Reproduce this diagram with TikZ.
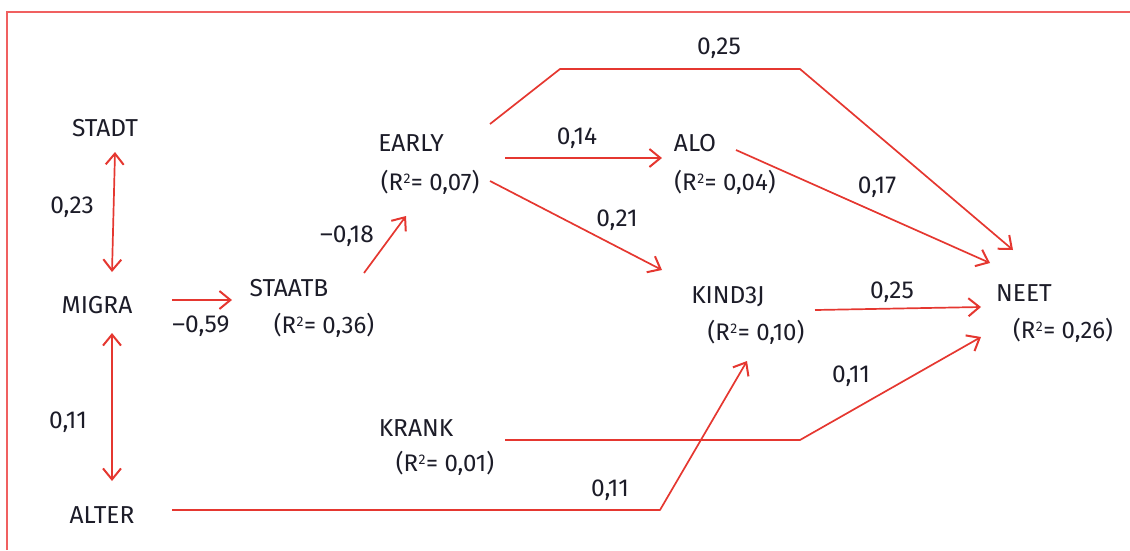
\documentclass[tikz,border=0pt]{standalone}
\usepackage{fontspec}
\setmainfont{Fira Sans}
\usetikzlibrary{arrows.meta}
\definecolor{linered}{HTML}{E53730}
\definecolor{framered}{HTML}{F06060}
\definecolor{txt}{HTML}{1C1C28}
\tikzset{
  lbl/.style={inner sep=0pt, text=txt, font=\fontsize{24.5}{28}\selectfont, anchor=center},
  rlbl/.style={lbl, font=\fontsize{24}{28}\selectfont},
  arr/.style={draw=linered, line width=1.7pt, line join=round, -{Straight Barb[length=11pt,width=18pt,line width=2pt]}},
  darr/.style={draw=linered, line width=1.7pt, {Straight Barb[length=11pt,width=18pt,line width=2pt]}-{Straight Barb[length=11pt,width=18pt,line width=2pt]}},
  frame/.style={draw=framered, line width=1.3pt}
}
\newcommand{\rsq}[1]{(R\kern0.5pt\raisebox{0.55ex}{\fontsize{14}{14}\selectfont 2}\kern0.5pt= #1)}
\begin{document}
\begin{tikzpicture}[x=1pt,y=-1pt]
\useasboundingbox (0,0) rectangle (1130,550);
\draw[frame] (7,550) -- (7,12) -- (1130,12);
% variable nodes
\node[lbl] (stadt) at (105,128) {STADT};
\node[lbl] (migra) at (97,305) {MIGRA};
\node[lbl] (alter) at (102,515) {ALTER};
\node[lbl] (staatb) at (289,288) {STAATB};
\node[rlbl] (staatbr) at (324,325) {\rsq{0,36}};
\node[lbl] (early) at (411,143) {EARLY};
\node[rlbl] (earlyr) at (430,182) {\rsq{0,07}};
\node[lbl] (alo) at (695,143) {ALO};
\node[rlbl] (alor) at (725,182) {\rsq{0,04}};
\node[lbl] (kind) at (728,297) {KIND3J};
\node[rlbl] (kindr) at (756,332) {\rsq{0,10}};
\node[lbl] (neet) at (1024,293) {NEET};
\node[rlbl] (neetr) at (1063,330) {\rsq{0,26}};
\node[lbl] (krank) at (416,428) {KRANK};
\node[rlbl] (krankr) at (445,463) {\rsq{0,01}};
% connector end points
\coordinate (stadtS) at (115,152);
\coordinate (migraN) at (112,272);
\coordinate (migraS) at (112,333);
\coordinate (alterN) at (112,481);
\coordinate (migraE) at (172,300);
\coordinate (staatbW) at (232,300);
\coordinate (staatbNE) at (364,273);
\coordinate (earlyS) at (406,216);
\coordinate (earlyNE) at (490,124);
\coordinate (earlyE) at (505,158);
\coordinate (earlySE) at (490,181);
\coordinate (aloW) at (662,158);
\coordinate (aloE) at (736,150);
\coordinate (kindNW) at (662,270);
\coordinate (kindE) at (815,310);
\coordinate (kindS) at (747,361);
\coordinate (krankE) at (505,440);
\coordinate (alterE) at (172,510);
\coordinate (neetNW) at (1013,250);
\coordinate (neetWN) at (990,263);
\coordinate (neetW) at (981,307);
\coordinate (neetWS) at (981,337);
% connectors
\draw[darr] (stadtS) -- (migraN);
\draw[darr] (migraS) -- (alterN);
\draw[arr] (migraE) -- (staatbW);
\draw[arr] (staatbNE) -- (earlyS);
\draw[arr] (earlyE) -- (aloW);
\draw[arr] (earlySE) -- (kindNW);
\draw[arr] (earlyNE) -- (560,69) -- (800,69) -- (neetNW);
\draw[arr] (aloE) -- (neetWN);
\draw[arr] (kindE) -- (neetW);
\draw[arr] (krankE) -- (800,440) -- (neetWS);
\draw[arr] (alterE) -- (660,510) -- (kindS);
% coefficient labels
\node[lbl] (c1) at (72,207) {0,23};
\node[lbl] (c2) at (68,422) {0,11};
\node[lbl] (c3) at (201,326) {–0,59};
\node[lbl] (c4) at (347,236) {–0,18};
\node[lbl] (c5) at (577,138) {0,14};
\node[lbl] (c6) at (719,48) {0,25};
\node[lbl] (c7) at (617,220) {0,21};
\node[lbl] (c8) at (877,187) {0,17};
\node[lbl] (c9) at (892,292) {0,25};
\node[lbl] (c10) at (851,376) {0,11};
\node[lbl] (c11) at (610,490) {0,11};
\end{tikzpicture}
\end{document}
